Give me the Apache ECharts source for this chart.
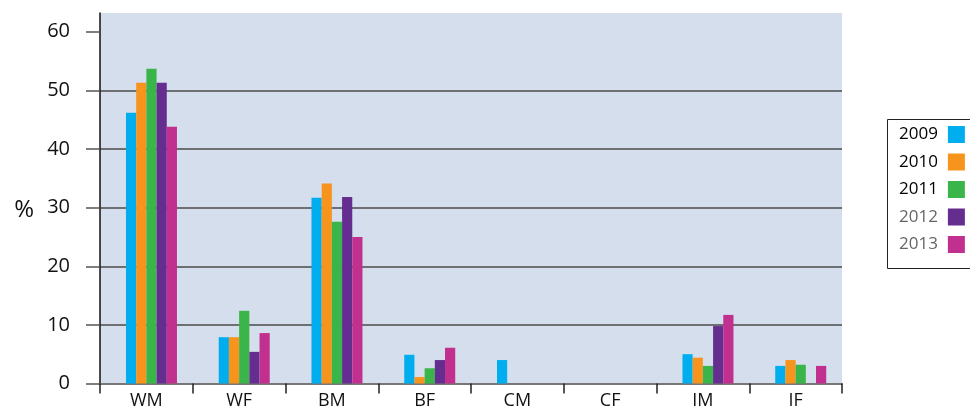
<!DOCTYPE html>
<html><head><meta charset="utf-8">
<script src="https://cdn.jsdelivr.net/npm/echarts@6/dist/echarts.min.js"></script>
<style>html,body{margin:0;padding:0;background:#fff}#c{width:970px;height:410px}</style>
</head><body><div id="c"></div>
<script>
const categories = ['WM','WF','BM','BF','CM','CF','IM','IF'];
const years = ['2009','2010','2011','2012','2013'];
const v2009 = [46.2, 7.9, 31.7, 4.9, 4.0, null, 5.0, 3.0];
const v2010 = [51.3, 7.9, 34.1, 1.1, null, null, 4.4, 4.0];
const v2011 = [53.7, 12.4, 27.6, 2.6, null, null, 3.0, 3.2];
const v2012 = [51.3, 5.4, 31.8, 4.0, null, null, 9.8, null];
const v2013 = [43.8, 8.6, 25.0, 6.1, null, null, 11.7, 3.0];
const yTicks = [0,10,20,30,40,50,60];
const colors = ['#00aeef','#f7941d','#39b54a','#662d91','#c2308f'];
const values = [v2009, v2010, v2011, v2012, v2013];
const legendText = [
  {color:'#000', fontWeight:500},
  {color:'#000', fontWeight:500},
  {color:'#000', fontWeight:500},
  {color:'#666', fontWeight:'normal'},
  {color:'#666', fontWeight:'normal'}
];
const font = '"Open Sans", "Noto Sans", sans-serif';

const series = [{
  name: '_pad', type: 'bar', barWidth: 10.2, barGap: '0%',
  data: categories.map(() => null), silent: true, itemStyle:{color:'transparent'}
}].concat(years.map((y, i) => ({
  name: y, type: 'bar', barWidth: 10.2, barGap: '0%',
  data: values[i], itemStyle: {color: colors[i]}
})));

const chart = echarts.init(document.getElementById('c'), null, {renderer:'canvas'});
chart.setOption({
  animation: false,
  textStyle: {fontFamily: font},
  grid: {left: 100, right: 128, top: 13, bottom: 26.5, show: true,
         backgroundColor: '#d5deec', borderWidth: 0},
  graphic: [{
    type: 'polyline', silent: true, z: 0,
    shape: {points: [[975, 119.5], [887.5, 119.5], [887.5, 268.5], [975, 268.5]]},
    style: {fill: null, stroke: '#222', lineWidth: 1}
  }],
  legend: {
    orient: 'vertical', left: 887, top: 119,
    align: 'right', borderWidth: 0,
    padding: [7, 4, 13, 12], itemGap: 10.5, itemWidth: 17, itemHeight: 17,
    icon: 'rect',
    textStyle: {fontSize: 17, fontFamily: font, padding: [0, 5, 0, 0]},
    data: years.map((y, i) => ({name: y, textStyle: legendText[i]}))
  },
  xAxis: {
    type: 'category', data: categories,
    axisLine: {lineStyle: {color: '#777', width: 2}},
    axisTick: {show: true, length: 10, lineStyle: {color: '#222', width: 1.5}},
    axisLabel: {color: '#111', fontSize: 18, margin: 8, fontFamily: font},
    splitLine: {show: false}
  },
  yAxis: {
    type: 'value', min: 0, max: 63.2, interval: 10,
    name: '%', nameLocation: 'middle', nameRotate: 0, nameGap: 66,
    nameTextStyle: {fontSize: 24, color: '#111', verticalAlign: 'top', fontFamily: font},
    axisLine: {show: true, lineStyle: {color: '#111', width: 1.5}},
    axisTick: {show: true, length: 14, customValues: yTicks, lineStyle: {color: '#555', width: 1.5}},
    axisLabel: {color: '#111', fontSize: 20, margin: 30, customValues: yTicks, fontFamily: font},
    splitLine: {show: true, showMaxLine: false, lineStyle: {color: '#4a4a4a', width: 1.5}}
  },
  series: series
});
</script></body></html>
